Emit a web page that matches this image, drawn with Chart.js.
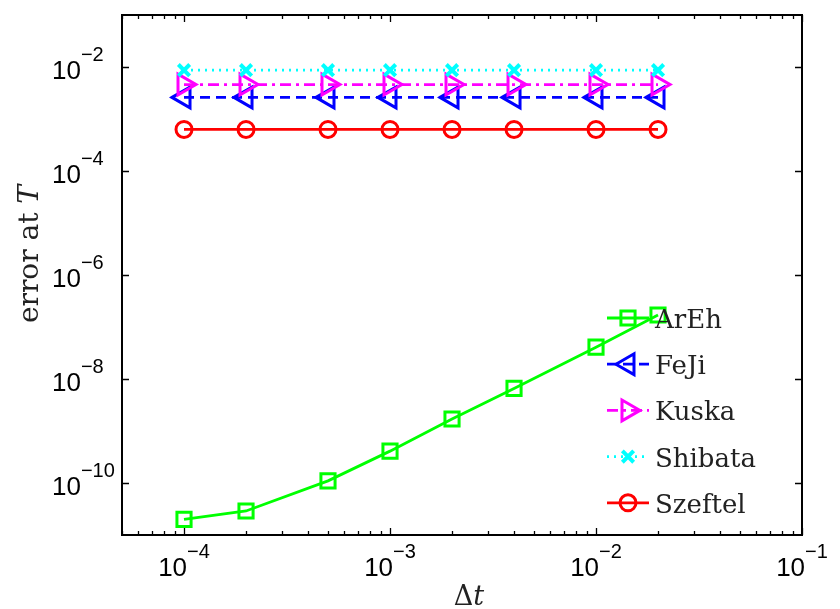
<!DOCTYPE html>
<html><head><meta charset="utf-8">
<script src="https://cdn.jsdelivr.net/npm/chart.js@4/dist/chart.umd.min.js"></script>
<style>html,body{margin:0;padding:0;background:#fff}#wrap{width:840px;height:609px}</style>
</head><body><div id="wrap"><canvas id="c" width="840" height="609"></canvas></div>
<script>
const dt = [1e-4, 2e-4, 5e-4, 1e-3, 2e-3, 4e-3, 1e-2, 2e-2];
const arEh = [2.0e-11, 2.9e-11, 1.1e-10, 4.1e-10, 1.7e-9, 6.6e-9, 4.1e-8, 1.7e-7];
const feJi = [2.6e-3, 2.6e-3, 2.6e-3, 2.6e-3, 2.6e-3, 2.6e-3, 2.6e-3, 2.6e-3];
const kuska = [4.6e-3, 4.6e-3, 4.6e-3, 4.6e-3, 4.6e-3, 4.6e-3, 4.6e-3, 4.6e-3];
const shibata = [8.7e-3, 8.7e-3, 8.7e-3, 8.7e-3, 8.7e-3, 8.7e-3, 8.7e-3, 8.7e-3];
const szeftel = [6.3e-4, 6.3e-4, 6.3e-4, 6.3e-4, 6.3e-4, 6.3e-4, 6.3e-4, 6.3e-4];
const seriesNames = ['ArEh', 'FeJi', 'Kuska', 'Shibata', 'Szeftel'];
const xMajor = [1e-4, 1e-3, 1e-2, 1e-1];
const xMinor = [5e-5, 6e-5, 7e-5, 8e-5, 9e-5, 2e-4, 3e-4, 4e-4, 5e-4, 6e-4, 7e-4, 8e-4, 9e-4,
  2e-3, 3e-3, 4e-3, 5e-3, 6e-3, 7e-3, 8e-3, 9e-3, 2e-2, 3e-2, 4e-2, 5e-2, 6e-2, 7e-2, 8e-2, 9e-2];
const xExp = ['4', '3', '2', '1'];
const yMajor = [1e-10, 1e-8, 1e-6, 1e-4, 1e-2];
const yExp = ['10', '8', '6', '4', '2'];

const pts = arr => dt.map((x, i) => ({x: x, y: arr[i]}));
const styles = [
  {color: '#00ff00', dash: [], ps: 'rect', r: 10, rot: 0, bw: 3},
  {color: '#0000ff', dash: [10, 6], ps: 'triangle', r: 12, rot: -90, bw: 3},
  {color: '#ff00ff', dash: [11, 5, 3, 5], ps: 'triangle', r: 12, rot: 90, bw: 3},
  {color: '#00ffff', dash: [2, 5], ps: 'crossRot', r: 8, rot: 0, bw: 4},
  {color: '#ff0000', dash: [], ps: 'circle', r: 8, rot: 0, bw: 3}
];
const dataArrays = [arEh, feJi, kuska, shibata, szeftel];
const datasets = dataArrays.map((arr, i) => ({
  label: seriesNames[i],
  data: pts(arr),
  borderColor: styles[i].color,
  backgroundColor: 'transparent',
  borderWidth: 2.8,
  borderDash: styles[i].dash,
  pointStyle: styles[i].ps,
  pointRadius: styles[i].r,
  pointRotation: styles[i].rot,
  pointBorderWidth: styles[i].bw,
  pointBorderColor: styles[i].color,
  pointBackgroundColor: 'transparent',
  tension: 0,
  order: 4 - i,
  clip: false
}));

function drawMarker(ctx, st, x, y) {
  if (Chart.helpers && Chart.helpers.drawPoint) {
    ctx.save();
    ctx.strokeStyle = st.color; ctx.fillStyle = 'transparent'; ctx.lineWidth = st.bw; ctx.setLineDash([]);
    Chart.helpers.drawPoint(ctx, {pointStyle: st.ps, radius: st.r, rotation: st.rot, borderWidth: st.bw}, x, y);
    ctx.restore();
  }
}

const deco = {
  id: 'deco',
  afterDraw(chart) {
    const ctx = chart.ctx, a = chart.chartArea, xs = chart.scales.x, ys = chart.scales.y;
    ctx.save();
    ctx.strokeStyle = '#000'; ctx.lineWidth = 2; ctx.setLineDash([]);
    ctx.strokeRect(a.left, a.top, a.right - a.left, a.bottom - a.top);
    ctx.lineWidth = 1.3;
    ctx.beginPath();
    xMajor.forEach(v => { const p = Math.round(xs.getPixelForValue(v)) + 0.5;
      ctx.moveTo(p, a.bottom); ctx.lineTo(p, a.bottom - 7); ctx.moveTo(p, a.top); ctx.lineTo(p, a.top + 7); });
    xMinor.forEach(v => { const p = Math.round(xs.getPixelForValue(v)) + 0.5;
      ctx.moveTo(p, a.bottom); ctx.lineTo(p, a.bottom - 4); ctx.moveTo(p, a.top); ctx.lineTo(p, a.top + 4); });
    yMajor.forEach(v => { const p = Math.round(ys.getPixelForValue(v)) + 0.5;
      ctx.moveTo(a.left, p); ctx.lineTo(a.left + 7, p); ctx.moveTo(a.right, p); ctx.lineTo(a.right - 7, p); });
    ctx.stroke();

    // tick labels
    ctx.fillStyle = '#000';
    ctx.textBaseline = 'alphabetic'; ctx.textAlign = 'left';
    const baseF = '26px "Liberation Sans", Arial, sans-serif';
    const supF = '20px "Liberation Sans", Arial, sans-serif';
    xMajor.forEach((v, i) => {
      const p = xs.getPixelForValue(v);
      ctx.font = baseF; const wb = ctx.measureText('10').width;
      ctx.font = supF; const we = ctx.measureText('\u2212' + xExp[i]).width;
      const s = p - (wb + we) / 2;
      ctx.font = baseF; ctx.fillText('10', s, a.bottom + 41);
      ctx.font = supF; ctx.fillText('\u2212' + xExp[i], s + wb, a.bottom + 23);
    });
    yMajor.forEach((v, i) => {
      const p = ys.getPixelForValue(v);
      ctx.font = baseF; const wb = ctx.measureText('10').width;
      ctx.fillText('10', 52, p + 12);
      ctx.font = supF; ctx.fillText('\u2212' + yExp[i], 52 + wb, p - 6);
    });

    // axis titles
    const serif = '"DejaVu Serif", "Liberation Serif", serif';
    ctx.fillStyle = '#222';
    ctx.save();
    ctx.translate(38, 254); ctx.rotate(-Math.PI / 2);
    ctx.font = '28px ' + serif; const w1 = ctx.measureText('error at ').width;
    ctx.font = 'italic 28px ' + serif; const w2 = ctx.measureText('T').width;
    ctx.font = '28px ' + serif; ctx.fillText('error at ', -(w1 + w2) / 2, 0);
    ctx.font = 'italic 28px ' + serif; ctx.fillText('T', -(w1 + w2) / 2 + w1, 0);
    ctx.restore();
    ctx.font = '27px ' + serif; const d1 = ctx.measureText('\u0394').width;
    ctx.font = 'italic 27px ' + serif; const d2 = ctx.measureText('t').width;
    const dx = 469 - (d1 + d2) / 2;
    ctx.font = '27px ' + serif; ctx.fillText('\u0394', dx, 605);
    ctx.font = 'italic 27px ' + serif; ctx.fillText('t', dx + d1, 605);

    // legend
    seriesNames.forEach((name, i) => {
      const cy = 318 + 46.2 * i, st = styles[i];
      ctx.save();
      ctx.strokeStyle = st.color; ctx.lineWidth = 2.8; ctx.setLineDash(st.dash);
      ctx.beginPath(); ctx.moveTo(607, cy); ctx.lineTo(649, cy); ctx.stroke();
      ctx.restore();
      drawMarker(ctx, st, 628, cy);
      ctx.fillStyle = '#222';
      ctx.font = '26px ' + serif; ctx.fillText(name, 655, cy + 10);
    });
    ctx.restore();
  }
};

new Chart(document.getElementById('c'), {
  type: 'line',
  data: {datasets: datasets},
  options: {
    responsive: false, animation: false, events: [],
    layout: {padding: {top: 7, right: 38, left: 0, bottom: 0}},
    plugins: {legend: {display: false}, tooltip: {enabled: false}},
    scales: {
      x: {type: 'logarithmic', min: 5e-5, max: 1e-1, position: 'bottom',
        ticks: {display: false}, grid: {display: false}, border: {display: false},
        afterFit(s) { s.height = 74; }},
      y: {type: 'logarithmic', min: 1e-11, max: 1e-1,
        ticks: {display: false}, grid: {display: false}, border: {display: false},
        afterFit(s) { s.width = 122; }}
    }
  },
  plugins: [deco]
});
</script></body></html>
